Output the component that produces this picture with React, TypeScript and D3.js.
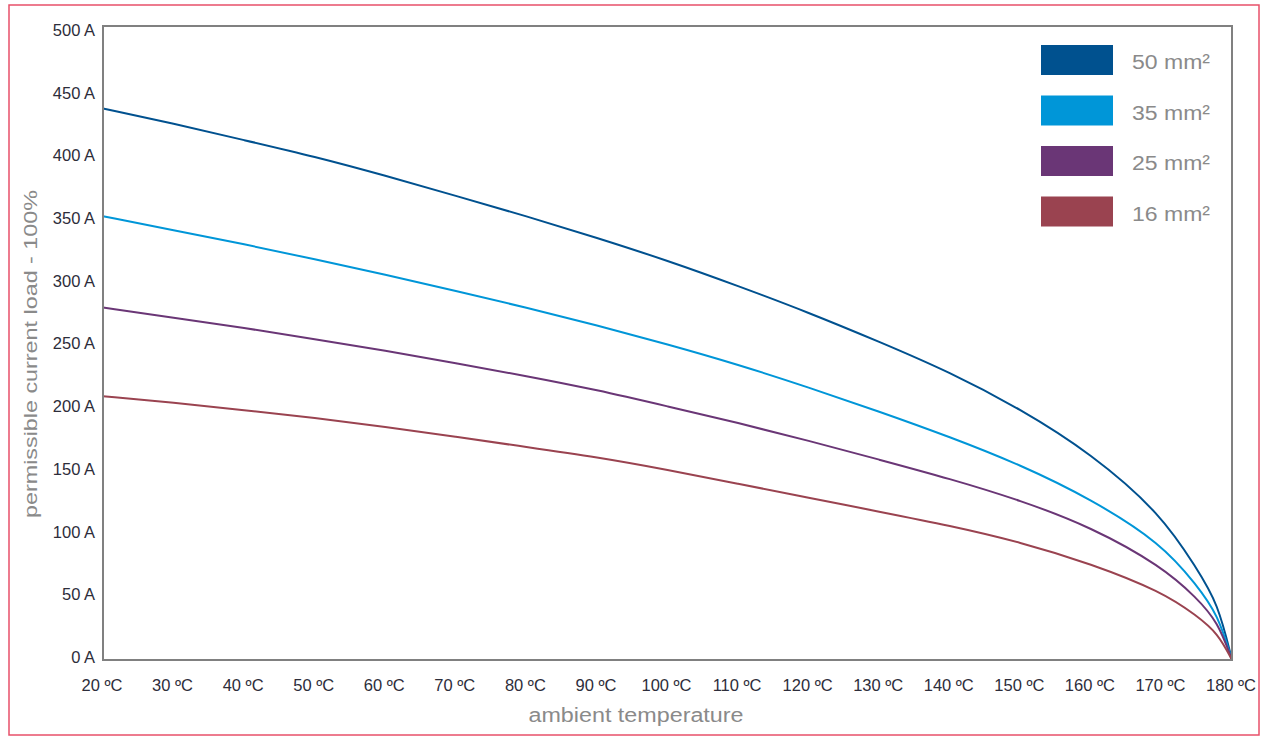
import React from "react";
import * as d3 from "d3";

const temps = [20, 30, 40, 50, 60, 70, 80, 90, 100, 110, 120, 130, 140, 150, 160, 170, 175, 178, 180];
const s50 = [435, 423, 410, 397, 382, 366, 350, 333, 315, 295, 274, 251, 227, 198, 163, 115, 72, 45, 0];
const s35 = [350, 339, 328, 316, 304, 291, 278, 264, 249, 233, 215, 196, 176, 154, 127, 92, 59, 36, 0];
const s25 = [278, 270, 262, 253, 244, 234, 224, 213, 200, 187, 173, 158, 143, 126, 105, 74, 49, 30, 0];
const s16 = [208, 203, 197, 191, 184, 176, 168, 160, 150, 139, 128, 117, 106, 93, 76, 54, 35, 21, 0];

const seriesNames = ["50 mm²", "35 mm²", "25 mm²", "16 mm²"];
const seriesColors = ["#00518f", "#0096d8", "#6a3676", "#9a4350"];
const seriesValues = [s50, s35, s25, s16];

const xTicks = [20, 30, 40, 50, 60, 70, 80, 90, 100, 110, 120, 130, 140, 150, 160, 170, 180];
const yTicks = [0, 50, 100, 150, 200, 250, 300, 350, 400, 450, 500];

const W = 1262;
const H = 738;
const L = 103, R = 1232, T = 26, B = 660;

export default function App() {
  const x = d3.scaleLinear().domain([20, 180]).range([L, R]);
  const y = d3.scaleLinear().domain([0, 500]).range([B, T]);
  const yLab = d3.scaleLinear().domain([0, 500]).range([657, 30]);
  const line = d3
    .line<[number, number]>()
    .x((d) => x(d[0]))
    .y((d) => y(d[1]))
    .curve(d3.curveBasis);

  const tickFont = "'Liberation Sans', Arial, sans-serif";

  return (
    <svg
      width={W}
      height={H}
      style={{ position: "absolute", left: 0, top: 0, background: "#fff" }}
      fontFamily={tickFont}
    >
      <rect x={9} y={5} width={1250} height={730} fill="#fff" stroke="#e8506a" strokeWidth={1.5} />

      {seriesValues.map((vals, i) => (
        <path
          key={i}
          d={line(temps.map((t, j) => [t, vals[j]] as [number, number])) || ""}
          fill="none"
          stroke={seriesColors[i]}
          strokeWidth={2}
        />
      ))}

      <rect x={L} y={T} width={R - L} height={B - T} fill="none" stroke="#808080" strokeWidth={2} />

      {yTicks.map((v) => (
        <text key={v} x={95} y={yLab(v)} dy="0.36em" textAnchor="end" fontSize={16.5} fill="#2d2d3a">
          {v} A
        </text>
      ))}

      {xTicks.map((v) => (
        <text key={v} x={x(v) - 1} y={685} dy="0.36em" textAnchor="middle" fontSize={16.5} fill="#2d2d3a">
          {v} ºC
        </text>
      ))}

      <text
        x={636}
        y={715}
        dy="0.36em"
        textAnchor="middle"
        fontSize={20}
        fill="#8a8a8a"
        textLength={215}
        lengthAdjust="spacingAndGlyphs"
      >
        ambient temperature
      </text>

      <text
        transform="translate(30,354) rotate(-90)"
        textAnchor="middle"
        dy="0.36em"
        fontSize={19}
        fill="#8a8a8a"
        textLength={328}
        lengthAdjust="spacingAndGlyphs"
      >
        permissible current load - 100%
      </text>

      {seriesNames.map((n, i) => (
        <g key={n} transform={`translate(1041,${45 + i * 50.5})`}>
          <rect width={72} height={30} fill={seriesColors[i]} />
          <text
            x={91}
            y={17}
            dy="0.36em"
            fontSize={20}
            fill="#8a8a8a"
            textLength={78}
            lengthAdjust="spacingAndGlyphs"
          >
            {n}
          </text>
        </g>
      ))}
    </svg>
  );
}
